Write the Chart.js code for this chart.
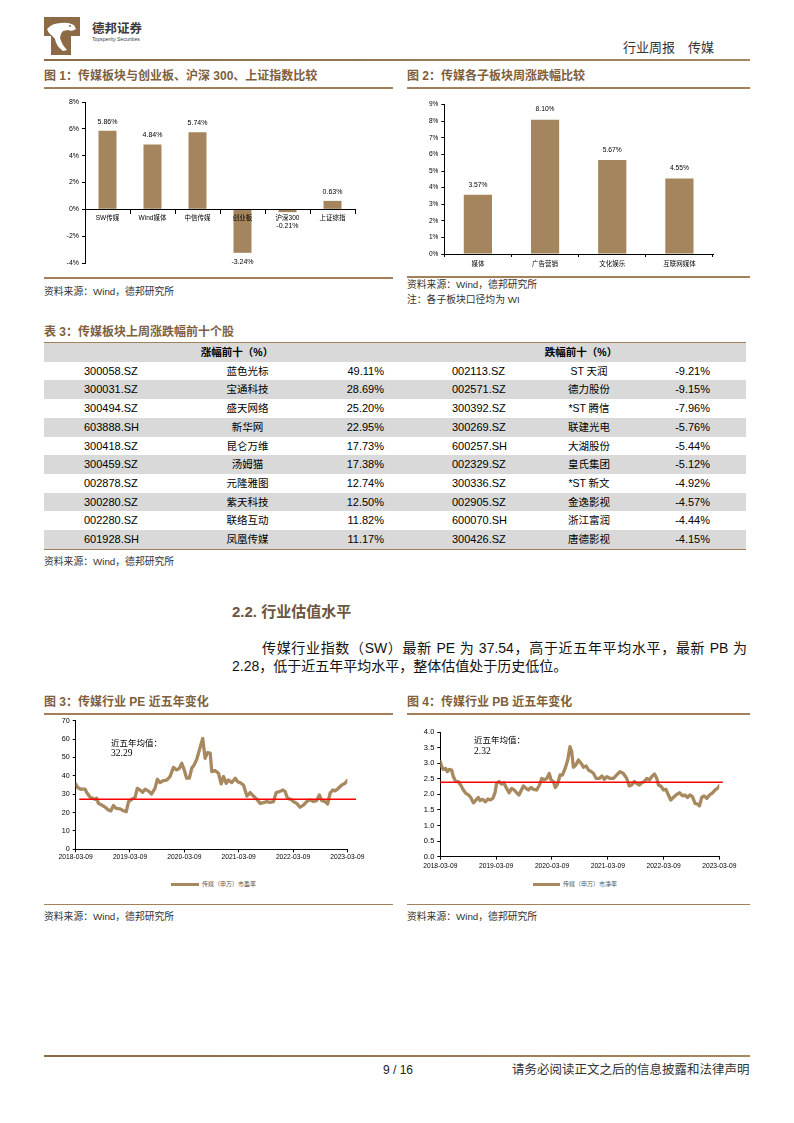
<!DOCTYPE html>
<html><head><meta charset="utf-8">
<script src="https://cdn.jsdelivr.net/npm/chart.js@4/dist/chart.umd.min.js"></script>
<style>
html,body{margin:0;padding:0;background:#fff;}
body{width:794px;height:1123px;position:relative;overflow:hidden;font-family:'Liberation Sans','Noto Sans CJK SC',sans-serif;color:#000;}
.a{position:absolute;white-space:nowrap;line-height:1;}
.rule{position:absolute;height:1.5px;background:#a2805a;}
.cap{font-size:12px;font-weight:bold;color:#80603c;}
.src{font-size:9.8px;color:#333;}
.box{position:absolute;}
canvas{display:block;}
#tbl{position:absolute;left:44px;top:342px;width:702px;border-collapse:collapse;table-layout:fixed;font-size:11px;}
#tbl td{height:18.7px;padding:0;line-height:18.7px;white-space:nowrap;}
#tbl tr.g td{background:#d9d9d9;}
#tbl tr.h td{font-weight:bold;font-size:10.5px;background:#d9d9d9;}
#tbl tr.top td{border-top:1.5px solid #a2805a;}
#tbl tr.bot td{border-bottom:1.5px solid #a2805a;}
.nm{font-size:10.5px;}
</style></head>
<body>
<!-- header -->
<svg class="box" style="left:44px;top:17px" width="36" height="38" viewBox="0 0 36 38">
  <path d="M0 0 H36 V19 H27 V38 H7 V19 H0 Z" fill="#8c6a45"/>
  <path d="M3 12 Q8 6 17 6 Q24 5 30 8 L32 12 Q28 15 24 13 L19 14 Q16 17 16 21 Q18 28 23 33 L19 34 Q12 29 11 22 Q9 19 6 17 Q4 15 3 12 Z" fill="#fff"/>
  <circle cx="3" cy="17" r="1.3" fill="#8c6a45"/><circle cx="26" cy="9" r="1" fill="#8c6a45"/>
</svg>
<div class="a" style="left:92px;top:23px;font-size:12.5px;font-weight:bold;color:#3a3a3a;">德邦证券</div>
<div class="a" style="left:92px;top:37px;font-size:5.2px;color:#444;">Topsperity Securities</div>
<div class="a" style="left:623px;top:41px;font-size:13px;color:#333;">行业周报</div>
<div class="a" style="left:688px;top:41px;font-size:13px;color:#333;">传媒</div>
<div class="box" style="left:44px;top:58.5px;width:706px;height:2.5px;background:linear-gradient(90deg,#8a6a47,#a58762);"></div>

<!-- figure 1 & 2 captions -->
<div class="a cap" style="left:44px;top:70px;">图 1：传媒板块与创业板、沪深 300、上证指数比较</div>
<div class="rule" style="left:44px;top:87px;width:349px;"></div>
<div class="a cap" style="left:407px;top:70px;">图 2：传媒各子板块周涨跌幅比较</div>
<div class="rule" style="left:407px;top:87px;width:343px;"></div>

<div class="box" style="left:44px;top:92px;"><canvas id="c1" width="320" height="180"></canvas></div>
<div class="box" style="left:407px;top:95px;"><canvas id="c2" width="320" height="180"></canvas></div>

<div class="rule" style="left:44px;top:277px;width:349px;"></div>
<div class="a src" style="left:44px;top:287px;">资料来源：Wind，德邦研究所</div>
<div class="rule" style="left:407px;top:276px;width:343px;"></div>
<div class="a src" style="left:407px;top:280px;">资料来源：Wind，德邦研究所</div>
<div class="a src" style="left:407px;top:294.5px;">注：各子板块口径均为 WI</div>

<!-- table -->
<div class="a cap" style="left:44px;top:326px;">表 3：传媒板块上周涨跌幅前十个股</div>
<table id="tbl">
  <colgroup><col style="width:151px"><col style="width:95px"><col style="width:105px"><col style="width:135px"><col style="width:118px"><col style="width:98px"></colgroup>
  <tbody id="tb"></tbody>
</table>
<div class="a src" style="left:44px;top:557px;">资料来源：Wind，德邦研究所</div>

<!-- section text -->
<div class="a" style="left:232px;top:604px;font-size:15px;font-weight:bold;color:#6b5540;">2.2. 行业估值水平</div>
<div class="a" style="left:262px;top:641px;width:485px;font-size:14px;text-align:justify;text-align-last:justify;color:#111;">传媒行业指数（SW）最新 PE 为 37.54，高于近五年平均水平，最新 PB 为</div>
<div class="a" style="left:232px;top:659px;font-size:14px;color:#111;">2.28，低于近五年平均水平，整体估值处于历史低位。</div>

<!-- figure 3 & 4 -->
<div class="a cap" style="left:44px;top:695.5px;">图 3：传媒行业 PE 近五年变化</div>
<div class="rule" style="left:44px;top:713px;width:349px;"></div>
<div class="a cap" style="left:407px;top:695.5px;">图 4：传媒行业 PB 近五年变化</div>
<div class="rule" style="left:407px;top:713px;width:343px;"></div>

<div class="box" style="left:40px;top:712px;"><canvas id="c3" width="330" height="155"></canvas></div>
<div class="box" style="left:400px;top:722px;"><canvas id="c4" width="345" height="155"></canvas></div>

<div class="a" style="left:111px;top:738.5px;font-size:8.5px;">近五年均值：</div>
<div class="a" style="left:111px;top:749px;font-size:9.5px;font-family:'Liberation Serif',serif;">32.29</div>
<div class="a" style="left:474px;top:735.5px;font-size:8.5px;">近五年均值：</div>
<div class="a" style="left:474px;top:747px;font-size:9.5px;font-family:'Liberation Serif',serif;">2.32</div>

<div class="box" style="left:171px;top:882.5px;width:28px;height:3px;background:#a8895f;"></div>
<div class="a" style="left:202px;top:881px;font-size:6px;color:#555;">传媒（申万）市盈率</div>
<div class="box" style="left:533px;top:882.5px;width:27px;height:3px;background:#a8895f;"></div>
<div class="a" style="left:563px;top:881px;font-size:6px;color:#555;">传媒（申万）市净率</div>

<div class="rule" style="left:44px;top:903.5px;width:349px;"></div>
<div class="a src" style="left:44px;top:911.5px;">资料来源：Wind，德邦研究所</div>
<div class="rule" style="left:407px;top:903.5px;width:343px;"></div>
<div class="a src" style="left:407px;top:911.5px;">资料来源：Wind，德邦研究所</div>

<!-- footer -->
<div class="box" style="left:44px;top:1054.5px;width:706px;height:2.5px;background:linear-gradient(90deg,#8a6a47,#a58762);"></div>
<div class="a" style="left:383px;top:1064px;font-size:12px;color:#222;">9 / 16</div>
<div class="a" style="left:512px;top:1063.5px;font-size:12.5px;color:#333;">请务必阅读正文之后的信息披露和法律声明</div>

<script>
// ---------- data ----------
const fig1Labels = ['SW传媒', 'Wind媒体', '中信传媒', '创业板', '沪深300', '上证综指'];
const fig1Values = [5.86, 4.84, 5.74, -3.24, -0.21, 0.63];
const fig1Ticks = [-4, -2, 0, 2, 4, 6, 8];

const fig2Labels = ['媒体', '广告营销', '文化娱乐', '互联网媒体'];
const fig2Values = [3.57, 8.10, 5.67, 4.55];

const gainCodes = ['300058.SZ','300031.SZ','300494.SZ','603888.SH','300418.SZ','300459.SZ','002878.SZ','300280.SZ','002280.SZ','601928.SH'];
const gainNames = ['蓝色光标','宝通科技','盛天网络','新华网','昆仑万维','汤姆猫','元隆雅图','紫天科技','联络互动','凤凰传媒'];
const gainPcts  = ['49.11%','28.69%','25.20%','22.95%','17.73%','17.38%','12.74%','12.50%','11.82%','11.17%'];
const lossCodes = ['002113.SZ','002571.SZ','300392.SZ','300269.SZ','600257.SH','002329.SZ','300336.SZ','002905.SZ','600070.SH','300426.SZ'];
const lossNames = ['ST 天润','德力股份','*ST 腾信','联建光电','大湖股份','皇氏集团','*ST 新文','金逸影视','浙江富润','唐德影视'];
const lossPcts  = ['-9.21%','-9.15%','-7.96%','-5.76%','-5.44%','-5.12%','-4.92%','-4.57%','-4.44%','-4.15%'];

const xTickDates  = ['2018-03-09','2019-03-09','2020-03-09','2021-03-09','2022-03-09','2023-03-09'];
const xTickLabels = ['2018-03-09','2019-03-09','2020-03-09','2021-03-09','2022-03-09','2023-03-09'];

const peDates = ['2018-03-09','2018-03-20','2018-04-12','2018-05-11','2018-05-22','2018-06-14','2018-07-17','2018-07-28','2018-08-09','2018-08-31','2018-09-23','2018-10-15','2018-10-31','2018-11-18','2018-12-06',
 '2019-01-02','2019-01-24','2019-02-12','2019-02-27','2019-03-20','2019-04-12','2019-04-27','2019-05-15','2019-06-02','2019-06-18','2019-07-10','2019-08-01','2019-08-24','2019-09-09','2019-09-27','2019-10-19','2019-11-11','2019-12-03','2019-12-26',
 '2020-01-17','2020-02-04','2020-02-20','2020-03-06','2020-03-24','2020-04-11','2020-04-27','2020-05-13','2020-05-31','2020-06-18','2020-07-10','2020-07-26','2020-08-11','2020-08-29','2020-09-09','2020-10-01','2020-10-24','2020-11-11','2020-11-27','2020-12-15','2020-12-30',
 '2021-01-22','2021-02-14','2021-03-01','2021-03-18','2021-04-10','2021-05-03','2021-05-25','2021-06-16','2021-07-09','2021-07-31','2021-08-23','2021-09-14','2021-10-06','2021-10-29','2021-11-16','2021-12-08','2021-12-31',
 '2022-01-15','2022-01-31','2022-02-22','2022-03-11','2022-04-03','2022-04-25','2022-05-18','2022-06-09','2022-07-01','2022-07-24','2022-08-15','2022-09-02','2022-09-18','2022-10-10','2022-10-28','2022-11-13','2022-12-01','2022-12-16',
 '2023-01-08','2023-01-31','2023-02-22','2023-03-09'];
const peValues = [35.6,33.8,32.7,32.8,30.9,28.3,27.2,27.8,25.0,24.1,22.9,21.4,20.9,23.8,22.3,
 22.0,21.0,20.5,26.0,27.2,28.3,33.2,32.3,31.0,32.7,31.8,30.1,33.2,38.1,36.3,37.4,37.7,39.6,44.6,
 43.2,44.1,46.8,43.6,38.7,38.7,44.1,45.9,49.0,54.1,60.4,49.5,52.6,52.3,42.3,42.8,41.4,35.6,39.6,35.9,37.7,
 36.3,38.7,36.8,36.3,35.0,29.0,30.9,29.0,27.2,25.0,25.4,26.0,25.6,26.0,30.9,31.4,32.3,
 31.4,27.8,27.2,26.0,25.0,22.9,24.1,26.0,26.9,26.0,26.5,29.6,26.5,26.0,24.7,30.5,32.3,31.8,
 33.2,35.0,35.9,37.5];
const peAvgValue = 27.2;
const peAvgRange = ['2018-04-02','2023-05-07'];
const peTicks = [0,10,20,30,40,50,60,70];

const pbDates = ['2018-03-09','2018-03-18','2018-03-29','2018-04-13','2018-04-24','2018-05-07','2018-05-22','2018-06-02','2018-06-18','2018-07-05','2018-07-20','2018-08-07','2018-08-24','2018-09-09','2018-09-24','2018-10-12','2018-10-29','2018-11-13','2018-11-24','2018-12-12','2018-12-29',
 '2019-01-14','2019-01-29','2019-02-16','2019-03-02','2019-03-12','2019-03-30','2019-04-14','2019-04-29','2019-05-17','2019-06-03','2019-06-19','2019-07-06','2019-07-21','2019-08-06','2019-08-17','2019-09-04','2019-09-21','2019-10-06','2019-10-24','2019-11-09','2019-11-30','2019-12-18',
 '2020-01-02','2020-01-18','2020-02-04','2020-02-20','2020-03-03','2020-03-18','2020-03-31','2020-04-14','2020-05-01','2020-05-16','2020-06-03','2020-06-20','2020-07-05','2020-07-16','2020-07-27','2020-08-12','2020-08-29','2020-09-16','2020-10-01','2020-10-19','2020-11-03','2020-11-21','2020-12-06','2020-12-23',
 '2021-01-12','2021-01-30','2021-02-14','2021-03-03','2021-03-24','2021-04-15','2021-05-06','2021-05-28','2021-06-19','2021-07-11','2021-07-28','2021-08-12','2021-08-30','2021-09-14','2021-10-02','2021-10-17','2021-11-04','2021-11-19','2021-12-07','2021-12-22',
 '2022-01-09','2022-01-24','2022-02-04','2022-02-22','2022-03-08','2022-03-25','2022-04-10','2022-04-25','2022-05-12','2022-05-30','2022-06-21','2022-07-12','2022-07-27','2022-08-12','2022-08-29','2022-09-14','2022-10-01','2022-10-17','2022-10-30','2022-11-14','2022-11-30','2022-12-17',
 '2023-01-04','2023-01-24','2023-02-10','2023-03-03','2023-03-09'];
const pbValues = [3.05,2.89,2.80,2.83,2.73,2.80,2.78,2.57,2.41,2.41,2.30,2.14,2.03,1.98,1.90,1.73,1.82,1.90,1.80,1.84,1.76,
 1.85,1.82,1.87,2.05,2.35,2.41,2.33,2.37,2.19,2.05,2.19,2.14,2.05,1.98,2.09,2.27,2.19,2.14,2.22,2.16,2.14,2.30,
 2.51,2.46,2.51,2.67,2.46,2.41,2.22,2.33,2.62,2.62,2.83,3.10,3.53,3.37,2.87,2.94,3.10,2.99,2.87,2.91,2.78,2.73,2.67,2.51,
 2.51,2.59,2.48,2.57,2.51,2.51,2.62,2.73,2.67,2.51,2.27,2.30,2.41,2.35,2.30,2.37,2.41,2.51,2.46,2.57,
 2.65,2.51,2.30,2.25,2.14,2.16,1.98,1.82,1.90,1.98,2.05,1.95,1.98,1.90,1.98,1.93,1.71,1.69,1.63,1.90,1.95,1.87,
 1.98,2.05,2.14,2.22,2.28];
const pbAvgValue = 2.385;
const pbAvgRange = ['2018-03-09','2023-04-01'];
const pbTicks = [0,0.5,1,1.5,2,2.5,3,3.5,4];

// ---------- table ----------
(function(){
  const tb = document.getElementById('tb');
  let html = '<tr class="h top"><td colspan="3" style="text-align:center;padding-left:35px;">涨幅前十（%）</td>' +
             '<td colspan="3" style="text-align:center;padding-left:21px;">跌幅前十（%）</td></tr>';
  for (let i = 0; i < gainCodes.length; i++) {
    const cls = (i % 2 === 1 ? 'g' : '') + (i === gainCodes.length - 1 ? ' bot' : '');
    html += '<tr class="' + cls + '">' +
      '<td style="padding-left:40px;">' + gainCodes[i] + '</td>' +
      '<td class="nm" style="text-align:center;padding-left:10px;">' + gainNames[i] + '</td>' +
      '<td style="text-align:right;padding-right:11px;">' + gainPcts[i] + '</td>' +
      '<td style="padding-left:57px;">' + lossCodes[i] + '</td>' +
      '<td class="nm" style="text-align:center;">' + lossNames[i] + '</td>' +
      '<td style="text-align:right;padding-right:36px;">' + lossPcts[i] + '</td></tr>';
  }
  tb.innerHTML = html;
})();

// ---------- charts ----------
const FONT = "'Liberation Sans','Noto Sans CJK SC',sans-serif";
const BAR = '#a5855d';
const LINE = '#a8895f';
Chart.defaults.font.family = FONT;
Chart.defaults.color = '#000';

const barLabelPlugin = {
  id: 'barLabels',
  afterDatasetsDraw(chart, args, opts) {
    const ctx = chart.ctx;
    const meta = chart.getDatasetMeta(0);
    const vals = chart.data.datasets[0].data;
    const zeroY = chart.scales.y.getPixelForValue(0);
    ctx.save();
    ctx.font = opts.size + 'px ' + FONT;
    ctx.fillStyle = '#000';
    ctx.textAlign = 'center';
    ctx.textBaseline = 'middle';
    meta.data.forEach((bar, i) => {
      const v = vals[i];
      const y = v >= 0 ? bar.y - opts.offset : Math.max(bar.y + opts.offset, zeroY + 17);
      ctx.fillText(v.toFixed(2) + '%', bar.x, y);
    });
    ctx.restore();
  }
};

const axisGrid = { display: true, drawOnChartArea: false, tickLength: 3, color: '#000', lineWidth: 1 };
const axisBorder = { display: true, color: '#000', width: 1 };

new Chart(document.getElementById('c1'), {
  type: 'bar',
  data: { labels: fig1Labels, datasets: [{ data: fig1Values, backgroundColor: BAR, barPercentage: 0.4, categoryPercentage: 1 }] },
  options: {
    responsive: false, animation: false, devicePixelRatio: 1,
    layout: { padding: { top: 10, right: 9, bottom: 9, left: 0 } },
    plugins: { legend: { display: false }, tooltip: { enabled: false }, barLabels: { size: 7, offset: 9 } },
    scales: {
      x: { position: { y: 0 }, grid: Object.assign({}, axisGrid, { offset: true, tickLength: 4, z: 1 }),
           border: Object.assign({}, axisBorder, { z: 1 }),
           ticks: { font: { size: 6.5 }, color: '#000', padding: 1, maxRotation: 0, autoSkip: false, z: 1 } },
      y: { min: -4, max: 8, afterFit(s) { s.width = 41; },
           afterBuildTicks(s) { s.ticks = fig1Ticks.map(v => ({ value: v })); },
           ticks: { callback: v => v + '%', font: { size: 7 }, color: '#000', padding: 3 },
           grid: axisGrid, border: axisBorder }
    }
  },
  plugins: [barLabelPlugin]
});

new Chart(document.getElementById('c2'), {
  type: 'bar',
  data: { labels: fig2Labels, datasets: [{ data: fig2Values, backgroundColor: BAR, barPercentage: 0.42, categoryPercentage: 1 }] },
  options: {
    responsive: false, animation: false, devicePixelRatio: 1,
    layout: { padding: { top: 9.7, right: 14, bottom: 0, left: 0 } },
    plugins: { legend: { display: false }, tooltip: { enabled: false }, barLabels: { size: 6.7, offset: 10 } },
    scales: {
      x: { afterFit(s) { s.height = 21; }, grid: Object.assign({}, axisGrid, { offset: true, tickLength: 3 }), border: axisBorder,
           ticks: { font: { size: 6.5 }, color: '#000', padding: 3, maxRotation: 0, autoSkip: false } },
      y: { min: 0, max: 9, afterFit(s) { s.width = 37.3; },
           ticks: { stepSize: 1, callback: v => v + '%', font: { size: 6.5 }, color: '#000', padding: 3 },
           grid: axisGrid, border: axisBorder }
    }
  },
  plugins: [barLabelPlugin]
});

const START = xTickDates[0];
function dayOffset(d) { return (Date.parse(d + 'T00:00:00Z') - Date.parse(START + 'T00:00:00Z')) / 86400000; }

function lineChart(id, dates, values, avgValue, avgRange, yTicks, yMax, yFmt, opt) {
  return new Chart(document.getElementById(id), {
    type: 'line',
    data: { datasets: [
      { data: dates.map((d, i) => ({ x: dayOffset(d), y: values[i] })), borderColor: LINE, borderWidth: 3.3,
        pointRadius: 0, tension: 0, borderJoinStyle: 'round', borderCapStyle: 'round', order: 1 },
      { data: avgRange.map(d => ({ x: dayOffset(d), y: avgValue })), borderColor: '#ff0000', borderWidth: 1.5,
        pointRadius: 0, clip: false, order: 0 }
    ] },
    options: {
      responsive: false, animation: false, devicePixelRatio: 1,
      layout: { padding: { top: opt.top, right: opt.right, bottom: 0, left: 0 } },
      plugins: { legend: { display: false }, tooltip: { enabled: false } },
      scales: {
        x: { type: 'linear', min: 0, max: dayOffset(xTickDates[xTickDates.length - 1]),
             afterBuildTicks(s) { s.ticks = xTickDates.map(d => ({ value: dayOffset(d) })); },
             afterFit(s) { s.height = opt.xh; },
             ticks: { callback: (v, i) => xTickLabels[i], font: { size: 6.7 }, color: '#000', maxRotation: 0, autoSkip: false, padding: opt.xpad },
             grid: axisGrid, border: axisBorder },
        y: { min: 0, max: yMax, afterFit(s) { s.width = opt.yw; },
             afterBuildTicks(s) { s.ticks = yTicks.map(v => ({ value: v })); },
             ticks: { callback: yFmt, font: { size: opt.yfs }, color: '#000', padding: 3 },
             grid: axisGrid, border: axisBorder }
      }
    }
  });
}

lineChart('c3', peDates, peValues, peAvgValue, peAvgRange, peTicks, 70, v => String(v),
  { top: 8.7, right: 22.7, xh: 17.7, yw: 35.7, xpad: 1, yfs: 7.2 });
lineChart('c4', pbDates, pbValues, pbAvgValue, pbAvgRange, pbTicks, 4, v => Number(v).toFixed(1),
  { top: 10, right: 25.7, xh: 20.3, yw: 40.3, xpad: 2, yfs: 7.5 });
</script>
</body></html>
